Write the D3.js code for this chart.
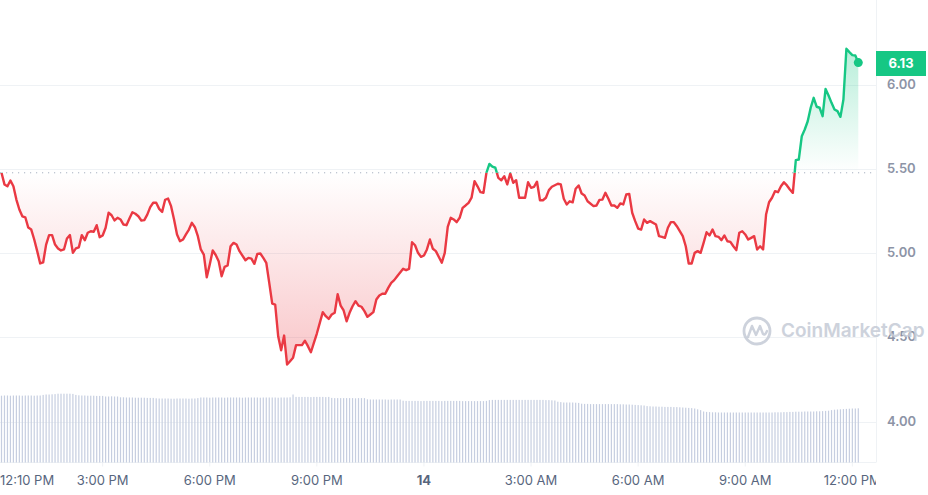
<!DOCTYPE html>
<html><head><meta charset="utf-8">
<script src="https://cdn.jsdelivr.net/npm/d3@7"></script>
<style>
body{margin:0;background:#fff;}
svg{display:block;font-family:Inter,"Noto Sans",sans-serif;}
</style>
</head><body>
<svg id="chart" width="928" height="495"></svg>
<script>
// ---------------- DATA ----------------
const startTime = new Date(2024, 0, 13, 12, 10);   // 12:10 PM on the 13th
const spanMinutes = 1440;

// price readings: minutes after 12:10 PM
const priceMinutes = [
0,5,10,15,20,25,30,35,40,45,50,55,60,65,70,75,80,85,90,95,100,105,110,115,120,125,130,135,140,145,150,155,160,165,170,175,180,185,190,195,200,205,210,215,220,225,230,235,240,245,250,255,260,265,270,275,280,285,290,295,300,305,310,315,320,325,330,335,340,345,350,355,360,365,370,375,380,385,390,395,400,410,415,420,425,430,435,440,445,450,455,460,465,470,475,480,485,490,495,500,505,510,515,520,525,530,540,545,550,555,560,565,570,575,580,585,590,595,600,605,610,615,620,625,630,635,640,645,650,655,660,665,675,680,685,690,695,700,705,710,715,720,725,730,740,745,750,755,760,765,770,775,780,785,790,795,800,805,810,815,820,825,830,835,840,845,850,855,860,865,870,875,880,885,890,895,900,905,910,915,920,925,935,940,945,950,955,960,965,970,975,980,985,995,1000,1005,1010,1015,1020,1025,1030,1035,1040,1045,1050,1055,1060,1065,1070,1075,1080,1085,1090,1100,1105,1110,1115,1120,1125,1130,1135,1145,1150,1155,1160,1165,1170,1175,1180,1185,1190,1195,1200,1205,1210,1215,1220,1225,1230,1235,1240,1245,1250,1255,1260,1265,1270,1275,1280,1285,1290,1295,1300,1305,1310,1315,1320,1325,1330,1335,1340,1345,1350,1355,1360,1365,1370,1375,1380,1385,1390,1395,1400,1405,1410,1415,1420,1425,1430,1435,1440
];
const prices = [
5.476,5.407,5.396,5.430,5.396,5.317,5.258,5.218,5.212,5.151,5.139,5.080,5.011,4.938,4.944,5.050,5.106,5.106,5.050,5.027,5.015,5.021,5.086,5.106,5.001,5.027,5.034,5.106,5.076,5.120,5.129,5.126,5.165,5.094,5.104,5.150,5.239,5.224,5.193,5.209,5.199,5.169,5.165,5.205,5.242,5.233,5.218,5.193,5.195,5.228,5.272,5.298,5.298,5.262,5.244,5.316,5.323,5.278,5.199,5.110,5.070,5.080,5.110,5.139,5.179,5.153,5.100,5.021,4.991,4.856,4.932,5.015,4.988,4.951,4.862,4.918,4.926,5.040,5.060,5.050,5.011,4.957,4.971,4.967,4.936,4.995,4.997,4.971,4.942,4.823,4.700,4.694,4.506,4.423,4.510,4.338,4.358,4.378,4.453,4.453,4.453,4.479,4.447,4.411,4.467,4.522,4.649,4.625,4.609,4.635,4.645,4.755,4.688,4.659,4.595,4.645,4.684,4.714,4.688,4.681,4.655,4.621,4.635,4.649,4.724,4.748,4.758,4.758,4.793,4.823,4.839,4.862,4.906,4.898,4.906,5.064,5.046,5.001,4.977,4.985,5.021,5.080,5.025,5.011,4.942,5.001,5.155,5.209,5.199,5.183,5.209,5.268,5.282,5.298,5.328,5.426,5.396,5.361,5.357,5.476,5.529,5.512,5.506,5.446,5.432,5.456,5.407,5.472,5.417,5.432,5.328,5.328,5.328,5.420,5.387,5.393,5.423,5.313,5.313,5.328,5.373,5.393,5.411,5.407,5.322,5.288,5.307,5.301,5.381,5.401,5.353,5.341,5.307,5.278,5.282,5.315,5.317,5.357,5.322,5.282,5.282,5.268,5.294,5.288,5.347,5.351,5.239,5.189,5.145,5.139,5.199,5.179,5.189,5.169,5.100,5.096,5.090,5.150,5.183,5.183,5.159,5.100,5.040,4.938,4.938,5.001,5.011,5.001,5.060,5.123,5.104,5.139,5.100,5.096,5.076,5.104,5.070,5.066,5.040,5.017,5.120,5.129,5.110,5.080,5.090,5.100,5.021,5.040,5.021,5.228,5.301,5.328,5.367,5.361,5.396,5.420,5.401,5.377,5.357,5.551,5.555,5.693,5.733,5.782,5.862,5.921,5.868,5.862,5.812,5.974,5.935,5.891,5.852,5.842,5.808,5.911,6.212,6.192,6.174,6.172,6.130
];

// volume (millions), one bar every 5 minutes from 12:10 PM
const volumeStep = 5;
const volumes = [
33.4,33.5,33.5,33.4,33.5,33.5,33.5,33.4,33.5,33.5,33.5,33.4,33.5,33.5,
33.8,34.0,34.0,34.1,34.2,
34.4,34.4,34.4,34.4,34.4,34.3,
33.8,33.6,33.5,33.5,33.4,33.4,33.4,33.3,33.3,33.3,
33.0,33.0,33.1,33.0,33.0,
32.6,32.6,32.5,32.5,32.5,32.4,32.4,32.4,32.4,32.3,32.3,32.3,
32.1,32.0,32.0,32.0,32.0,31.9,31.9,32.0,32.0,32.0,32.0,31.9,32.0,32.0,32.2,
32.5,32.5,32.5,32.4,32.5,32.5,32.5,32.5,32.4,32.5,32.5,32.5,32.5,32.5,32.4,32.5,32.5,32.5,32.5,32.5,32.4,32.5,32.5,32.5,32.5,32.5,32.4,32.5,32.5,32.5,
32.6,34.0,
32.8,32.8,32.8,32.8,32.8,32.7,32.8,32.8,32.8,32.8,32.7,32.8,
32.3,32.2,32.2,32.2,32.2,32.2,32.2,32.2,32.1,32.2,32.2,32.2,
31.6,31.5,31.5,31.5,31.5,31.5,31.5,31.4,31.5,31.5,31.5,31.5,
30.9,30.8,30.8,30.8,30.8,30.8,30.7,30.8,30.8,30.8,30.8,30.8,30.8,30.7,30.8,30.8,30.8,30.8,30.8,30.8,
30.7,30.7,30.7,30.7,30.7,30.7,30.7,30.7,30.8,
31.2,31.3,31.3,31.3,31.3,31.3,31.3,31.3,31.3,31.3,31.3,31.3,31.3,31.3,31.3,31.3,31.3,31.3,31.3,31.2,31.2,31.1,31.0,
30.4,30.2,30.0,30.0,30.0,30.0,29.9,29.8,
29.4,29.3,29.3,29.2,29.2,29.2,29.2,29.2,29.2,29.2,29.2,29.2,29.2,29.1,29.1,29.0,29.0,28.9,28.8,28.7,28.6,28.5,
28.2,28.1,28.0,28.0,27.9,27.9,27.8,27.8,27.8,27.7,27.7,27.6,27.5,27.4,27.3,27.2,27.0,26.6,26.2,
25.5,25.3,25.2,25.1,25.1,25.0,25.0,25.0,25.0,25.0,25.0,25.0,25.0,25.0,25.0,25.0,25.0,25.0,25.0,25.0,25.0,25.0,25.0,25.0,25.1,25.1,25.1,25.2,25.2,25.3,
25.3,25.4,25.4,25.4,25.5,25.5,25.5,25.5,25.6,25.6,25.7,25.8,25.9,
26.2,26.4,26.5,26.6,26.7,26.8,26.9,27.0,27.0,27.1
];

const yTickValues = [4.0, 4.5, 5.0, 5.5, 6.0];
const xTickHours = [15, 18, 21, 24, 27, 30, 33, 36];   // hours after midnight of the 13th
const xTickLabels = ["3:00 PM", "6:00 PM", "9:00 PM", "14", "3:00 AM", "6:00 AM", "9:00 AM", "12:00 PM"];
const firstTickLabel = "12:10 PM";
const lastPriceLabel = "6.13";
const watermarkText = "CoinMarketCap";

// ---------------- DRAW ----------------
const W = 928, H = 495;
const plotRight = 876, axisBottom = 462.5;
const up = "#16c784", down = "#ea3943";
const svg = d3.select("#chart");
const defs = svg.append("defs");

const endTime = new Date(+startTime + spanMinutes * 60000);
const x = d3.scaleTime().domain([startTime, endTime]).range([1.5, 858.3]);
const y = d3.scaleLinear().domain([4, 6]).range([421.5, 84.5]);
const v = d3.scaleLinear().domain([0, 40]).range([axisBottom, axisBottom - 80]);

const tOf = m => new Date(+startTime + m * 60000);
const data = prices.map((p, i) => ({t: tOf(priceMinutes[i]), p}));
const base = prices[0];
const baseY = y(base);

// gridlines
svg.append("g").selectAll("line").data(yTickValues).join("line")
  .attr("x1", 0).attr("x2", plotRight)
  .attr("y1", d => Math.round(y(d)) + 0.5).attr("y2", d => Math.round(y(d)) + 0.5)
  .attr("stroke", "#eff2f5").attr("stroke-width", 1);
// right border
svg.append("line").attr("x1", plotRight + 0.5).attr("x2", plotRight + 0.5)
  .attr("y1", 0).attr("y2", axisBottom).attr("stroke", "#eff2f5");
// bottom axis line
svg.append("line").attr("x1", 0).attr("x2", plotRight)
  .attr("y1", axisBottom).attr("y2", axisBottom).attr("stroke", "#eff2f5");

// volume bars
svg.append("g").selectAll("rect").data(volumes).join("rect")
  .attr("x", (d, i) => x(tOf(i * volumeStep)) - 0.6)
  .attr("width", 1.2)
  .attr("y", d => v(d))
  .attr("height", d => axisBottom - v(d))
  .attr("fill", "#c6cee0");

// gradients
const gRed = defs.append("linearGradient").attr("id", "gRed")
  .attr("gradientUnits", "userSpaceOnUse").attr("x1", 0).attr("x2", 0)
  .attr("y1", baseY).attr("y2", y(4.3));
gRed.append("stop").attr("offset", 0).attr("stop-color", down).attr("stop-opacity", 0.0);
gRed.append("stop").attr("offset", 1).attr("stop-color", down).attr("stop-opacity", 0.3);
const gGreen = defs.append("linearGradient").attr("id", "gGreen")
  .attr("gradientUnits", "userSpaceOnUse").attr("x1", 0).attr("x2", 0)
  .attr("y1", y(6.2)).attr("y2", baseY);
gGreen.append("stop").attr("offset", 0).attr("stop-color", up).attr("stop-opacity", 0.3);
gGreen.append("stop").attr("offset", 1).attr("stop-color", up).attr("stop-opacity", 0.0);

defs.append("clipPath").attr("id", "clipUp").append("rect")
  .attr("x", 0).attr("y", 0).attr("width", W).attr("height", baseY);
defs.append("clipPath").attr("id", "clipDown").append("rect")
  .attr("x", 0).attr("y", baseY).attr("width", W).attr("height", H - baseY);
defs.append("clipPath").attr("id", "clipPlot").append("rect")
  .attr("x", 0).attr("y", 0).attr("width", plotRight).attr("height", H);

const area = d3.area().x(d => x(d.t)).y0(baseY).y1(d => y(d.p));
const line = d3.line().x(d => x(d.t)).y(d => y(d.p));

svg.append("path").datum(data).attr("d", area).attr("fill", "url(#gRed)").attr("clip-path", "url(#clipDown)");
svg.append("path").datum(data).attr("d", area).attr("fill", "url(#gGreen)").attr("clip-path", "url(#clipUp)");

// baseline dotted
svg.append("line").attr("x1", 0).attr("x2", plotRight)
  .attr("y1", baseY).attr("y2", baseY)
  .attr("stroke", "#a8b0c0").attr("stroke-width", 1).attr("stroke-dasharray", "1.2,4.8");

svg.append("path").datum(data).attr("d", line).attr("fill", "none")
  .attr("stroke", down).attr("stroke-width", 2.4).attr("stroke-linejoin", "round")
  .attr("clip-path", "url(#clipDown)");
svg.append("path").datum(data).attr("d", line).attr("fill", "none")
  .attr("stroke", up).attr("stroke-width", 2.4).attr("stroke-linejoin", "round")
  .attr("clip-path", "url(#clipUp)");

// end dot
const last = data[data.length - 1];
svg.append("circle").attr("cx", x(last.t)).attr("cy", y(last.p)).attr("r", 4.5).attr("fill", up);

// y labels
svg.append("g").selectAll("text").data(yTickValues).join("text")
  .attr("x", 887).attr("y", d => y(d) + 0.5)
  .attr("dominant-baseline", "middle")
  .attr("font-size", 13).attr("font-weight", 600).attr("fill", "#8d94a6")
  .text(d => d.toFixed(2));

// price tag
svg.append("rect").attr("x", plotRight).attr("y", 51).attr("width", 50).attr("height", 25).attr("fill", up);
svg.append("text").attr("x", plotRight + 25).attr("y", 64).attr("text-anchor", "middle")
  .attr("dominant-baseline", "middle").attr("font-size", 13).attr("font-weight", 700)
  .attr("fill", "#fff").text(lastPriceLabel);

// x ticks & labels
const midnight13 = new Date(startTime.getFullYear(), startTime.getMonth(), startTime.getDate());
const xTicks = xTickHours.map((h, i) => ({t: new Date(+midnight13 + h * 3600000), label: xTickLabels[i]}));
const xg = svg.append("g").attr("clip-path", "url(#clipPlot)");
xg.selectAll("line").data(xTicks).join("line")
  .attr("x1", d => x(d.t)).attr("x2", d => x(d.t))
  .attr("y1", axisBottom).attr("y2", axisBottom + 4).attr("stroke", "#eff2f5");
xg.selectAll("text").data(xTicks).join("text")
  .attr("x", d => x(d.t)).attr("y", 481)
  .attr("text-anchor", "middle").attr("dominant-baseline", "middle")
  .attr("font-size", 13)
  .attr("font-weight", d => d.label === "14" ? 700 : 400)
  .attr("fill", "#58667e")
  .text(d => d.label);
xg.append("text").attr("x", 0).attr("y", 481).attr("dominant-baseline", "middle")
  .attr("font-size", 13).attr("fill", "#58667e").text(firstTickLabel);

// watermark
const wm = svg.append("g").attr("opacity", 0.85);
wm.append("circle").attr("cx", 757).attr("cy", 331).attr("r", 13)
  .attr("fill", "none").attr("stroke", "#c5cbd6").attr("stroke-width", 2.8);
wm.append("path").attr("d", "M748,337 L752,326 L756,335 L760,326 L763,334 Q765,336 767,331")
  .attr("fill", "none").attr("stroke", "#c5cbd6").attr("stroke-width", 2.4)
  .attr("stroke-linejoin", "round").attr("stroke-linecap", "round");
wm.append("text").attr("x", 781).attr("y", 332).attr("dominant-baseline", "middle")
  .attr("font-size", 19).attr("font-weight", 600).attr("fill", "#c5cbd6").text(watermarkText);
</script>
</body></html>
